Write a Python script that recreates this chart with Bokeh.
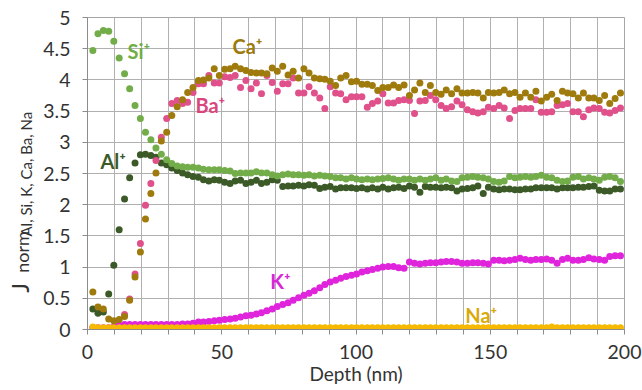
import math
from bokeh.plotting import figure
from bokeh.layouts import row
from bokeh.models import Label, FixedTicker, NumeralTickFormatter, CustomJSTickFormatter, ColumnDataSource
from bokeh.core.properties import value
from bokeh.embed import file_html
from bokeh.resources import INLINE

nan = float("nan")

depth = [2.0, 3.9, 5.9, 7.9, 9.8, 11.8, 13.8, 15.7, 17.7, 19.7,
         21.6, 23.6, 25.5, 27.5, 29.5, 31.4, 33.4, 35.4, 37.3, 39.3,
         41.3, 43.2, 45.2, 47.2, 49.1, 51.1, 53.1, 55.0, 57.0, 59.0,
         60.9, 62.9, 64.8, 66.8, 68.8, 70.7, 72.7, 74.7, 76.6, 78.6,
         80.6, 82.5, 84.5, 86.5, 88.4, 90.4, 92.4, 94.3, 96.3, 98.3,
         100.2, 102.2, 104.2, 106.1, 108.1, 110.0, 112.0, 114.0, 115.9, 117.9,
         119.9, 121.8, 123.8, 125.8, 127.7, 129.7, 131.7, 133.6, 135.6, 137.6,
         139.5, 141.5, 143.5, 145.4, 147.4, 149.3, 151.3, 153.3, 155.2, 157.2,
         159.2, 161.1, 163.1, 165.1, 167.0, 169.0, 171.0, 172.9, 174.9, 176.9,
         178.8, 180.8, 182.8, 184.7, 186.7, 188.6, 190.6, 192.6, 194.5, 196.5,
         198.5]

si = [4.47, 4.74, 4.79, 4.78, 4.62, 4.35, 4.10, 3.86, 3.59, 3.38,
      3.16, 3.04, 2.91, 2.81, 2.72, 2.66, 2.62, 2.61, 2.60, 2.60,
      2.59, 2.57, 2.56, 2.56, 2.56, 2.55, 2.54, 2.50, 2.51, 2.51,
      2.51, 2.53, 2.51, 2.51, 2.48, 2.46, 2.48, 2.49, 2.48, 2.48,
      2.47, 2.48, 2.46, 2.47, 2.46, 2.45, 2.43, 2.43, 2.41, 2.43,
      2.41, 2.40, 2.41, 2.40, 2.41, 2.42, 2.43, 2.41, 2.39, 2.41,
      2.41, 2.39, 2.41, 2.39, 2.41, 2.43, 2.39, 2.41, 2.38, 2.37,
      2.43, 2.44, 2.45, 2.44, 2.43, 2.41, 2.37, 2.36, 2.38, 2.45,
      2.43, 2.44, 2.45, 2.44, 2.45, 2.47, 2.44, 2.43, 2.39, 2.37,
      2.38, 2.44, 2.45, 2.41, 2.43, 2.41, 2.39, 2.44, 2.45, 2.43,
      2.37]

al = [0.33, 0.26, 0.28, 0.57, 1.03, 1.60, 2.09, 2.43, 2.67, 2.80,
      2.81, 2.79, 2.76, 2.67, 2.64, 2.59, 2.55, 2.51, 2.48, 2.45,
      2.44, 2.40, 2.38, 2.40, 2.39, 2.36, 2.34, 2.38, 2.39, 2.34,
      2.36, 2.39, 2.34, 2.36, 2.40, 2.39, 2.29, 2.30, 2.30, 2.31,
      2.30, 2.32, 2.31, 2.26, 2.28, 2.29, 2.25, 2.27, 2.27, 2.27,
      2.26, 2.27, 2.25, 2.27, 2.25, 2.28, 2.25, 2.27, 2.28, 2.26,
      2.30, 2.28, 2.20, 2.29, 2.28, 2.28, 2.27, 2.28, 2.27, 2.22,
      2.25, 2.26, 2.27, 2.30, 2.18, 2.28, 2.25, 2.24, 2.25, 2.25,
      2.24, 2.24, 2.25, 2.25, 2.27, 2.27, 2.27, 2.27, 2.25, 2.27,
      2.27, 2.27, 2.28, 2.28, 2.29, 2.30, 2.23, 2.22, 2.22, 2.25,
      2.25]

ca = [0.60, 0.36, 0.33, 0.17, 0.14, 0.16, 0.21, 0.47, 0.84, 1.24,
      1.77, 2.18, 2.51, 3.02, 3.16, 3.43, 3.57, 3.68, 3.80, 3.88,
      3.99, 4.00, 4.03, 4.18, 4.07, 4.17, 4.18, 4.22, 4.18, 4.15,
      4.12, 4.11, 4.11, 4.10, 4.19, 4.14, 4.22, 4.08, 4.14, 4.03,
      4.18, 4.11, 4.03, 4.02, 4.01, 3.98, 3.91, 4.03, 4.07, 3.97,
      3.98, 3.93, 3.93, 3.91, 3.83, 3.88, 3.88, 3.92, 3.88, 3.92,
      3.75, 3.84, 3.95, 3.80, 3.91, 3.80, 3.77, 3.84, 3.78, 3.86,
      3.79, 3.79, 3.80, 3.79, 3.71, 3.80, 3.79, 3.80, 3.84, 3.78,
      3.80, 3.72, 3.79, 3.72, 3.82, 3.66, 3.72, 3.77, 3.67, 3.82,
      3.79, 3.78, 3.71, 3.79, 3.71, 3.71, 3.67, 3.75, 3.62, 3.70,
      3.79]

ba = [nan, nan, nan, nan, nan, nan, 0.24, 0.49, 0.89, 1.38,
      1.99, 2.34, 2.71, 3.08, 3.38, 3.62, 3.67, 3.62, 3.64, 3.80,
      3.94, 3.94, 4.07, 3.95, 3.95, 4.05, 4.04, 4.07, 3.88, 3.99,
      3.86, 3.95, 3.78, 4.07, 3.96, 3.82, 3.94, 3.94, 4.03, 3.79,
      3.79, 3.89, 3.79, 3.71, 3.54, 3.89, 3.79, 3.78, 3.68, 3.73,
      3.73, 3.73, 3.56, 3.62, 3.66, 3.78, 3.63, 3.63, 3.67, 3.68,
      3.67, 3.46, 3.66, 3.67, 3.75, 3.68, 3.59, 3.54, 3.57, 3.66,
      3.60, 3.52, 3.49, 3.47, 3.49, 3.56, 3.54, 3.59, 3.55, 3.38,
      3.51, 3.54, 3.54, 3.54, 3.68, 3.48, 3.48, 3.49, 3.59, 3.60,
      3.62, 3.49, 3.49, 3.41, 3.52, 3.55, 3.54, 3.48, 3.47, 3.51,
      3.55]

k = [0.03, 0.03, 0.03, 0.03, 0.04, 0.07, 0.08, 0.08, 0.08, 0.08,
     0.08, 0.08, 0.08, 0.08, 0.08, 0.08, 0.08, 0.09, 0.09, 0.10,
     0.12, 0.12, 0.13, 0.14, 0.15, 0.16, 0.17, 0.18, 0.20, 0.22,
     0.23, 0.25, 0.27, 0.30, 0.33, 0.37, 0.40, 0.43, 0.47, 0.51,
     0.55, 0.58, 0.62, 0.67, 0.72, 0.76, 0.79, 0.82, 0.85, 0.87,
     0.89, 0.92, 0.94, 0.96, 0.98, 1.00, 1.01, 1.01, 0.99, 0.98,
     1.08, 1.06, 1.05, 1.06, 1.07, 1.07, 1.08, 1.09, 1.09, 1.08,
     1.06, 1.06, 1.07, 1.07, 1.06, 1.05, 1.11, 1.11, 1.10, 1.11,
     1.12, 1.14, 1.12, 1.11, 1.12, 1.12, 1.13, 1.11, 1.06, 1.12,
     1.14, 1.11, 1.11, 1.12, 1.15, 1.13, 1.12, 1.11, 1.17, 1.18,
     1.18]

na = [0.04, 0.03, 0.03, 0.03, 0.03, 0.03, 0.03, 0.03, 0.03, 0.03,
      0.03, 0.03, 0.03, 0.03, 0.03, 0.03, 0.03, 0.03, 0.03, 0.03,
      0.03, 0.03, 0.03, 0.03, 0.03, 0.03, 0.03, 0.03, 0.03, 0.03,
      0.03, 0.03, 0.03, 0.03, 0.03, 0.03, 0.03, 0.03, 0.03, 0.03,
      0.03, 0.03, 0.03, 0.03, 0.03, 0.03, 0.03, 0.03, 0.03, 0.03,
      0.03, 0.03, 0.03, 0.03, 0.03, 0.03, 0.03, 0.03, 0.03, 0.03,
      0.03, 0.03, 0.03, 0.03, 0.03, 0.03, 0.03, 0.03, 0.03, 0.03,
      0.03, 0.03, 0.03, 0.03, 0.03, 0.03, 0.03, 0.03, 0.03, 0.03,
      0.03, 0.03, 0.03, 0.03, 0.03, 0.03, 0.03, 0.04, 0.03, 0.03,
      0.03, 0.03, 0.03, 0.03, 0.03, 0.03, 0.03, 0.03, 0.03, 0.03,
      0.03]

series_names = ["Al", "Si", "K", "Na", "Ba", "Ca"]
series_values = {"Al": al, "Si": si, "K": k, "Na": na, "Ba": ba, "Ca": ca}
dot_colors = {"Al": "#3b5a27", "Si": "#72ad4a", "K": "#e024dc", "Na": "#f7b900",
              "Ba": "#e0508a", "Ca": "#9e7b0c"}
label_colors = {"Al": "#3b5a27", "Si": "#70ad47", "K": "#d825d8", "Na": "#d9a90a",
                "Ba": "#d9467e", "Ca": "#9c7a0c"}

x_ticks = list(range(0, 201, 10))
y_ticks = [0, 0.5, 1, 1.5, 2, 2.5, 3, 3.5, 4, 4.5, 5]

y_title_parts = ["J", "norm", "Al, Si, K, Ca, Ba, Na"]

FONT = "Lato"
TXT = "#333333"
STRIP_W = 40
H = 390
BOTTOM = 61

# ---- left strip holding the rotated y-axis title (J with subscripts);
#      its frame is aligned with the main frame by the row layout, so it shares the 0..5 scale
strip = figure(width=STRIP_W, height=H, x_range=(0, STRIP_W), y_range=(0, 5),
               output_backend="svg", toolbar_location=None,
               x_axis_type=None, y_axis_type=None,
               min_border_left=0, min_border_right=0, min_border_top=17, min_border_bottom=BOTTOM)
strip.outline_line_color = None
strip.background_fill_color = "white"
strip.border_fill_color = "white"
strip.grid.visible = False
title_src = ColumnDataSource(dict(
    x=[19.1, 21.0, 25.7], y=[0.59, 0.91, 1.49], t=y_title_parts,
    fs=["23px", "18px", "15px"]))
strip.text("x", "y", text="t", source=title_src, angle=math.pi / 2,
           text_font=value(FONT), text_font_size="fs", text_color=TXT,
           text_align="left", text_baseline="middle")

# ---- main chart ----
p = figure(width=642 - STRIP_W, height=H, x_range=(0, 200), y_range=(0, 5),
           output_backend="svg", toolbar_location=None,
           min_border_left=87 - STRIP_W, min_border_right=18, min_border_top=17, min_border_bottom=BOTTOM)
p.background_fill_color = "white"
p.border_fill_color = "white"
p.outline_line_color = "#a6a6a6"
p.outline_line_width = 1

p.xaxis.ticker = FixedTicker(ticks=x_ticks)
p.yaxis.ticker = FixedTicker(ticks=y_ticks)
p.xaxis.formatter = CustomJSTickFormatter(code="return (Math.round(tick) % 50 === 0) ? Math.round(tick).toString() : '';")
p.yaxis.formatter = NumeralTickFormatter(format="0.[0]")

for ax in (p.xaxis, p.yaxis):
    ax.axis_line_color = "#8c8c8c"
    ax.major_tick_line_color = "#8c8c8c"
    ax.major_tick_in = 0
    ax.major_tick_out = 5
    ax.minor_tick_line_color = None
    ax.major_label_text_font = FONT
    ax.major_label_text_font_size = "19.5px"
    ax.major_label_text_color = TXT
p.xaxis.major_label_standoff = 10
p.yaxis.major_label_standoff = 12

p.xaxis.axis_label = "Depth (nm)"
p.xaxis.axis_label_text_font = FONT
p.xaxis.axis_label_text_font_size = "19px"
p.xaxis.axis_label_text_font_style = "normal"
p.xaxis.axis_label_text_color = TXT
p.xaxis.axis_label_standoff = 0

p.xgrid.grid_line_color = "#b0b0b0"
p.ygrid.grid_line_color = "#b0b0b0"

for name in series_names:
    src = ColumnDataSource(dict(x=depth, y=series_values[name]))
    p.scatter("x", "y", source=src, size=7, fill_color=dot_colors[name], line_color=None)

# label anchors = centre of each series label (data units)
label_pos = {"Si": (14.9, 4.46), "Ca": (54.0, 4.54), "Ba": (40.2, 3.60),
             "Al": (4.8, 2.70), "K": (68.1, 0.78), "Na": (140.7, 0.23)}
for name, (lx, ly) in label_pos.items():
    p.add_layout(Label(x=lx, y=ly, text=name + "\u207a", text_color=label_colors[name],
                       text_font=FONT, text_font_size="20px", text_font_style="bold",
                       text_align="left", text_baseline="middle"))

open("out.html", "w").write(file_html(row(strip, p), INLINE))
